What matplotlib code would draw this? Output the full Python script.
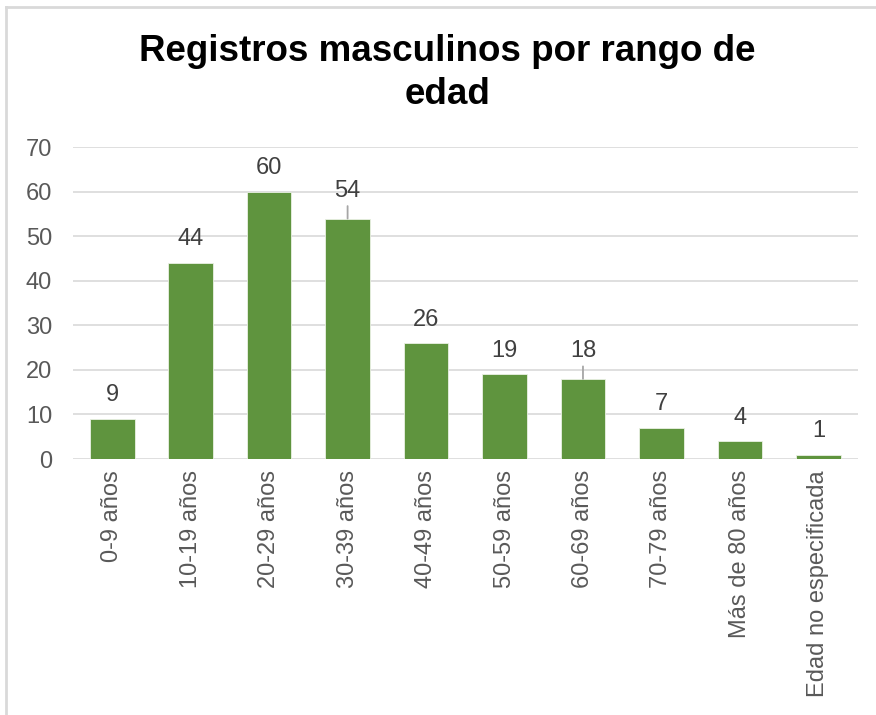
import matplotlib.pyplot as plt
from matplotlib.lines import Line2D

# Datos
categorias = ["0-9 años", "10-19 años", "20-29 años", "30-39 años", "40-49 años",
              "50-59 años", "60-69 años", "70-79 años", "Más de 80 años",
              "Edad no especificada"]
registros = [9, 44, 60, 54, 26, 19, 18, 7, 4, 1]
con_guia = [3, 6]  # etiquetas con línea guía

plt.rcParams["font.family"] = ["Liberation Sans", "DejaVu Sans"]
verde = "#5F943E"
gris = "#595959"

fig = plt.figure(figsize=(8.76, 7.15), dpi=100)
ax = fig.add_axes([0.0833, 0.358, 0.8957, 0.436])

x = range(len(categorias))
ax.bar(x, registros, width=0.57, color=verde, edgecolor="#EAF1E4", linewidth=0.6, zorder=3)
ax.set_xlim(-0.5, len(categorias) - 0.5)
ax.set_ylim(0, 70)
ax.set_yticks(range(0, 71, 10))
ax.grid(axis="y", color="#D9D9D9", linewidth=1.2, zorder=0)
for s in ax.spines.values():
    s.set_visible(False)
ax.tick_params(axis="both", length=0, labelsize=17, labelcolor=gris)
ax.tick_params(axis="y", pad=15)
ax.tick_params(axis="x", pad=8)
ax.set_xticks(list(x))
ax.set_xticklabels(categorias, rotation=90, va="top")

for i, v in enumerate(registros):
    dy = 20 if i in con_guia else 17
    ax.annotate(str(v), (i, v), xytext=(0, dy), textcoords="offset points",
                ha="center", va="center", fontsize=17, color="#404040")
    if i in con_guia:
        ax.annotate("", (i, v), xytext=(i, v + 2.8), textcoords="data",
                    arrowprops=dict(arrowstyle="-", color="#A6A6A6", lw=1.3,
                                    shrinkA=0, shrinkB=0))

fig.text(0.511, 0.898, "Registros masculinos por rango de\nedad", ha="center", va="center",
         fontsize=26.5, fontweight="bold", color="black", linespacing=1.32)

# borde del gráfico (solo arriba e izquierda visibles)
fig.add_artist(Line2D([6 / 876, 6 / 876], [0, 1 - 7 / 715], transform=fig.transFigure,
                      color="#D9D9D9", linewidth=2))
fig.add_artist(Line2D([6 / 876, 1], [1 - 7 / 715, 1 - 7 / 715], transform=fig.transFigure,
                      color="#D9D9D9", linewidth=2))

fig.savefig("out.png", dpi=100)
